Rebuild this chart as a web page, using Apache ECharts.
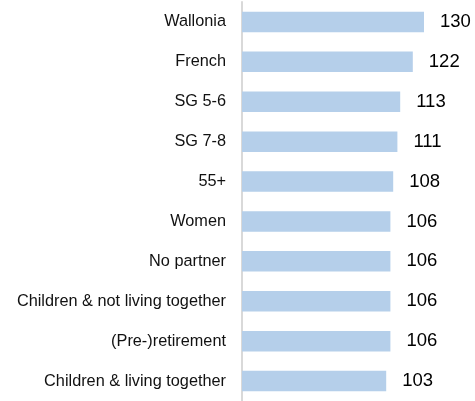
<!DOCTYPE html>
<html>
<head>
<meta charset="utf-8">
<script src="https://cdn.jsdelivr.net/npm/echarts@6/dist/echarts.min.js"></script>
<style>html,body{margin:0;padding:0;background:#fff;}#c{width:475px;height:401px;}</style>
</head>
<body>
<div id="c"></div>
<script>
var categories = ["Wallonia","French","SG 5-6","SG 7-8","55+","Women","No partner","Children & not living together","(Pre-)retirement","Children & living together"];
var values = [130,122,113,111,108,106,106,106,106,103];

var chart = echarts.init(document.getElementById('c'), null, {renderer:'canvas'});
chart.setOption({
  animation:false,
  grid:{left:242, top:2, width:196, height:403, containLabel:false},
  xAxis:{type:'value', min:0, max:140, show:false},
  yAxis:{type:'category', data:categories, inverse:true,
    axisLine:{show:true, lineStyle:{color:'#d9d9d9', width:2}},
    axisTick:{show:false},
    axisLabel:{color:'#111', fontSize:16.3, fontFamily:'Liberation Sans', margin:16}},
  series:[{type:'bar', data:values, barWidth:20.5,
    itemStyle:{color:'#b5cfea'},
    label:{show:true, position:'right', distance:16, color:'#000', fontSize:18.5, fontFamily:'Liberation Sans'}}]
});
</script>
</body>
</html>
